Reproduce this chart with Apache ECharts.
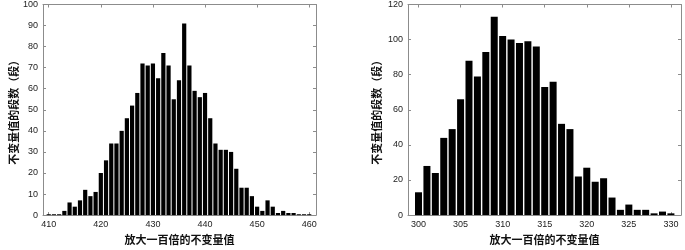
<!DOCTYPE html>
<html>
  <head>
    <title></title>
    <meta charset="UTF-8" />
    <script src="https://cdn.jsdelivr.net/npm/echarts@6/dist/echarts.min.js"></script>
  </head>
  <body style="margin:0;background:#fff">
    <div id="main"></div>
    <script>
      const width = 685;
      const height = 250;
      const main = document.getElementById('main');
      main.style.width = `${width}px`;
      main.style.height = `${height}px`;

      // left histogram
      const leftBins = [410, 411, 412, 413, 414, 415, 416, 417, 418, 419,
        420, 421, 422, 423, 424, 425, 426, 427, 428, 429,
        430, 431, 432, 433, 434, 435, 436, 437, 438, 439,
        440, 441, 442, 443, 444, 445, 446, 447, 448, 449,
        450, 451, 452, 453, 454, 455, 456, 457, 458, 459, 460];
      const leftCounts = [0.4, 0.4, 0.4, 2, 6, 4, 7, 12, 9, 11,
        20, 26, 34, 34, 40, 46, 52, 58, 72, 71,
        72, 65, 77, 71, 55, 64, 91, 71, 59, 56,
        58, 46, 34, 31, 31, 30, 22, 13, 13, 9,
        4, 2, 7, 4, 1, 2, 1, 1, 0.4, 0.4, 0.4];
      const leftTicks = [410, 420, 430, 440, 450, 460];

      // right histogram
      const rightBins = [300, 301, 302, 303, 304, 305, 306, 307, 308, 309,
        310, 311, 312, 313, 314, 315, 316, 317, 318, 319,
        320, 321, 322, 323, 324, 325, 326, 327, 328, 329, 330];
      const rightCounts = [13, 28, 24, 44, 49, 66, 88, 79, 93, 113,
        102, 100, 98, 99, 96, 73, 76, 52, 49, 22,
        27, 19, 21, 10, 3, 6, 3, 3, 1, 2, 1];
      const rightTicks = [300, 305, 310, 315, 320, 325, 330];

      const xName = '放大一百倍的不变量值';
      const yName = '不变量值的段数（段）';

      const frame = '#8c8c8c';
      const tickFont = { fontFamily: 'Liberation Sans, Arial', fontSize: 9, color: '#222' };
      const nameFont = { fontFamily: 'Noto Sans CJK SC', fontSize: 11, color: '#111', fontWeight: 'bold' };

      function xAxes(gridIndex, min, max, ticks) {
        return [
          {
            gridIndex, type: 'value', min, max,
            name: xName, nameLocation: 'middle', nameGap: 17, nameTextStyle: nameFont,
            axisLine: { lineStyle: { color: frame } },
            axisTick: { inside: true, length: 3, customValues: ticks, lineStyle: { color: frame } },
            axisLabel: { customValues: ticks, margin: 5, ...tickFont },
            splitLine: { show: false }
          },
          {
            gridIndex, type: 'value', min, max, position: 'top',
            axisLine: { onZero: false, lineStyle: { color: frame } },
            axisTick: { inside: true, length: 3, customValues: ticks, lineStyle: { color: frame } },
            axisLabel: { show: false },
            splitLine: { show: false }
          }
        ];
      }

      function yAxes(gridIndex, max, interval, gap) {
        return [
          {
            gridIndex, type: 'value', min: 0, max, interval,
            name: yName, nameLocation: 'middle', nameGap: gap, nameTextStyle: nameFont,
            axisLine: { show: true, lineStyle: { color: frame } },
            axisTick: { show: true, inside: true, length: 3, lineStyle: { color: frame } },
            axisLabel: { margin: 5, ...tickFont },
            splitLine: { show: false }
          },
          {
            gridIndex, type: 'value', min: 0, max, interval, position: 'right',
            axisLine: { show: true, onZero: false, lineStyle: { color: frame } },
            axisTick: { show: true, inside: true, length: 3, lineStyle: { color: frame } },
            axisLabel: { show: false },
            splitLine: { show: false }
          }
        ];
      }

      const myChart = echarts.init(main);
      const option = {
        animation: false,
        backgroundColor: '#fff',
        grid: [
          { left: 43, top: 4, width: 273, height: 214 },
          { left: 408, top: 4, width: 273, height: 214 }
        ],
        xAxis: [
          ...xAxes(0, 408.9, 461.3, leftTicks),
          ...xAxes(1, 298.75, 331.2, rightTicks)
        ],
        yAxis: [
          ...yAxes(0, 100, 10, 24),
          ...yAxes(1, 120, 20, 26)
        ],
        series: [
          {
            type: 'bar',
            xAxisIndex: 0,
            yAxisIndex: 0,
            barWidth: 4.2,
            itemStyle: { color: '#000' },
            data: leftBins.map((b, i) => [b, leftCounts[i]])
          },
          {
            type: 'bar',
            xAxisIndex: 2,
            yAxisIndex: 2,
            barWidth: 7,
            itemStyle: { color: '#000' },
            data: rightBins.map((b, i) => [b, rightCounts[i]])
          }
        ]
      };
      myChart.setOption(option);
    </script>
  </body>
</html>
